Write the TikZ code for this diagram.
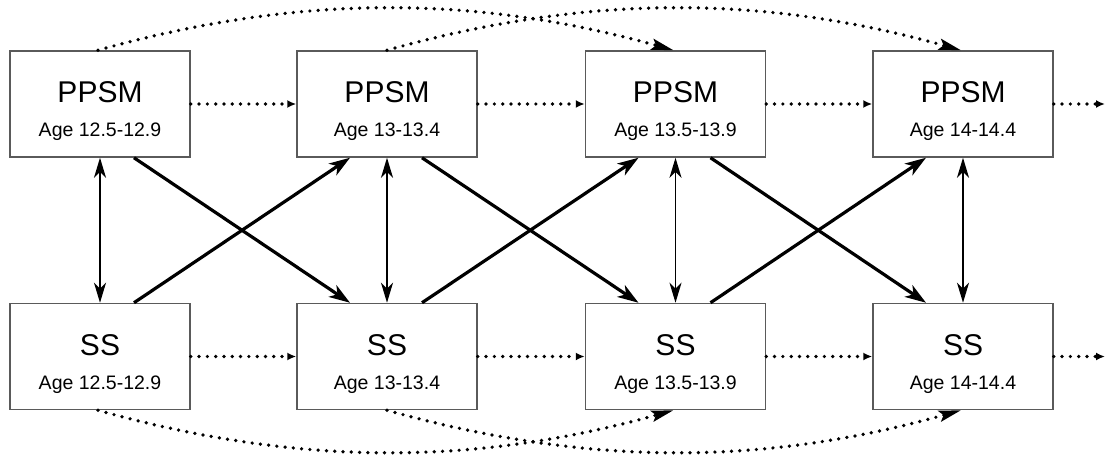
\documentclass[tikz,border=0pt]{standalone}
\usepackage{fontspec}
\setmainfont{Liberation Sans}
\usetikzlibrary{arrows.meta,calc}
\definecolor{boxgray}{HTML}{5A5A5A}
\tikzset{
  box/.style={draw=boxgray, line width=1.5pt, minimum width=180pt, minimum height=106pt, inner sep=0pt, fill=white},
  title/.style={anchor=base, font=\fontsize{30}{36}\selectfont, inner sep=0pt},
  age/.style={anchor=base, font=\fontsize{19.5}{24}\selectfont, inner sep=0pt},
  dotline/.style={line width=3.7pt, dash pattern=on 0pt off 8.3pt, line cap=round},
  dotarrow/.style={dotline, -{Latex[length=9pt,width=8pt]}},
  longarrow/.style={dotline, -{Stealth[length=22pt,width=11pt,inset=4pt]}},
  cross/.style={line width=3.2pt, -{Stealth[length=21pt,width=14pt,inset=6pt]}},
  mutual/.style={line width=1.7pt, {Stealth[length=20pt,width=12pt,inset=6pt]}-{Stealth[length=20pt,width=12pt,inset=6pt]}}
}
\begin{document}
\begin{tikzpicture}[x=1pt,y=-1pt]
\useasboundingbox (0,0) rectangle (1106,457);
% boxes
\node[box] (t1) at (100,104) {};
\node[box] (t2) at (387,104) {};
\node[box] (t3) at (675.5,104) {};
\node[box] (t4) at (963,104) {};
\node[box] (b1) at (100,356.5) {};
\node[box] (b2) at (387,356.5) {};
\node[box] (b3) at (675.5,356.5) {};
\node[box] (b4) at (963,356.5) {};
% texts
\node[title] (tt1) at (100,103) {PPSM};
\node[age] (ta1) at (100,137) {Age 12.5-12.9};
\node[title] (tt2) at (387,103) {PPSM};
\node[age] (ta2) at (387,137) {Age 13-13.4};
\node[title] (tt3) at (675.5,103) {PPSM};
\node[age] (ta3) at (675.5,137) {Age 13.5-13.9};
\node[title] (tt4) at (963,103) {PPSM};
\node[age] (ta4) at (963,137) {Age 14-14.4};
\node[title] (bt1) at (100,355) {SS};
\node[age] (ba1) at (100,389) {Age 12.5-12.9};
\node[title] (bt2) at (387,355) {SS};
\node[age] (ba2) at (387,389) {Age 13-13.4};
\node[title] (bt3) at (675.5,355) {SS};
\node[age] (ba3) at (675.5,389) {Age 13.5-13.9};
\node[title] (bt4) at (963,355) {SS};
\node[age] (ba4) at (963,389) {Age 14-14.4};
% free ends
\coordinate (tend) at (1105,104);
\coordinate (bend) at (1105,356.5);
% horizontal dotted arrows
\draw[dotarrow] (t1.east) -- (t2.west);
\draw[dotarrow] (t2.east) -- (t3.west);
\draw[dotarrow] (t3.east) -- (t4.west);
\draw[dotarrow] (t4.east) -- (tend);
\draw[dotarrow] (b1.east) -- (b2.west);
\draw[dotarrow] (b2.east) -- (b3.west);
\draw[dotarrow] (b3.east) -- (b4.west);
\draw[dotarrow] (b4.east) -- (bend);
% long curved dotted arrows
\draw[longarrow] ($(t1.north)+(-2,0)$) .. controls +(200,-56) and +(-200,-56) .. ($(t3.north)+(-2,0)$);
\draw[longarrow] (t2.north) .. controls +(200,-56) and +(-200,-56) .. ($(t4.north)+(-2,0)$);
\draw[longarrow] ($(b1.south)+(-2,0)$) .. controls +(200,56) and +(-200,56) .. ($(b3.south)+(-2,0)$);
\draw[longarrow] (b2.south) .. controls +(200,56) and +(-200,56) .. ($(b4.south)+(-2,0)$);
% vertical mutual arrows
\draw[mutual] (t1.south) -- (b1.north);
\draw[mutual] (t2.south) -- (b2.north);
\draw[mutual] (t3.south) -- (b3.north);
\draw[mutual] (t4.south) -- (b4.north);
% cross-lagged arrows
\draw[cross] ($(t1.south)+(34,0)$) -- ($(b2.north)+(-37,0)$);
\draw[cross] ($(b1.north)+(34,0)$) -- ($(t2.south)+(-37,0)$);
\draw[cross] ($(t2.south)+(35,0)$) -- ($(b3.north)+(-37,0)$);
\draw[cross] ($(b2.north)+(35,0)$) -- ($(t3.south)+(-37,0)$);
\draw[cross] ($(t3.south)+(35,0)$) -- ($(b4.north)+(-37,0)$);
\draw[cross] ($(b3.north)+(35,0)$) -- ($(t4.south)+(-37,0)$);
\end{tikzpicture}
\end{document}
